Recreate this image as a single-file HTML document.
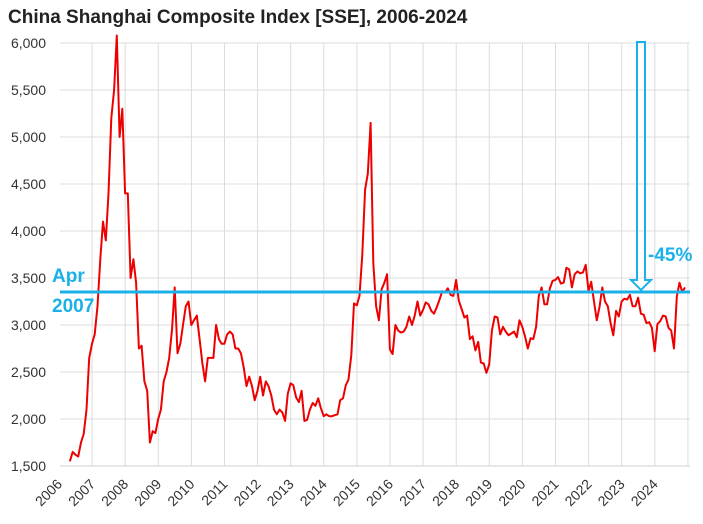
<!DOCTYPE html>
<html><head><meta charset="utf-8"><style>
body{margin:0;background:#fff;width:703px;height:519px;overflow:hidden;font-family:"Liberation Sans",sans-serif}
</style></head><body>
<svg id="chart" width="703" height="519" xmlns="http://www.w3.org/2000/svg">
<text x="8" y="23" font-size="19" font-weight="bold" fill="#222">China Shanghai Composite Index [SSE], 2006-2024</text>
<g id="grid"></g><g id="yticks"></g><g id="xticks"></g>
<path id="line" fill="none" stroke="#ee0000" stroke-width="2" stroke-linejoin="round"/>
<line x1="60" x2="690" y1="292" y2="292" stroke="#1ab0e8" stroke-width="3"/>
<path d="M637,42 H645 V280 H651 L641,290 L631,280 H637 Z" fill="none" stroke="#1ab0e8" stroke-width="2"/>
<text x="648" y="261" font-size="19" font-weight="bold" fill="#1ab0e8">-45%</text>
<text x="52" y="282" font-size="19" font-weight="bold" fill="#1ab0e8">Apr</text>
<text x="52" y="312" font-size="19" font-weight="bold" fill="#1ab0e8">2007</text>
</svg>
<script>
const years=[2006,2007,2008,2009,2010,2011,2012,2013,2014,2015,2016,2017,2018,2019,2020,2021,2022,2023,2024];
const yTicks=[1500,2000,2500,3000,3500,4000,4500,5000,5500,6000];
const startYear=2006.33;
const values=[1550,1650,1620,1600,1750,1840,2100,2650,
2800,2900,3200,3700,4100,3900,4400,5200,5500,6080,5000,5300,
4400,4400,3500,3700,3450,2750,2780,2400,2300,1750,1870,1850,
2000,2100,2400,2500,2650,2950,3400,2700,2800,3000,3200,3250,
3000,3050,3100,2850,2600,2400,2650,2650,2650,3000,2850,2800,
2800,2900,2930,2900,2750,2750,2700,2550,2350,2450,2350,2200,
2300,2450,2250,2400,2350,2250,2100,2050,2100,2070,1980,2270,
2380,2360,2230,2180,2300,1980,1990,2100,2170,2140,2220,2115,
2030,2050,2030,2030,2040,2050,2200,2220,2360,2420,2680,3230,
3210,3310,3750,4440,4610,5150,3660,3200,3050,3380,3450,3540,
2740,2690,3000,2940,2920,2930,2980,3090,3000,3100,3250,3100,
3160,3240,3220,3150,3120,3190,3270,3360,3350,3390,3320,3310,
3480,3260,3170,3080,3100,2850,2880,2730,2820,2600,2590,2490,
2580,2940,3090,3080,2900,2980,2930,2890,2910,2930,2870,3050,
2980,2880,2750,2860,2850,2980,3310,3400,3220,3220,3390,3470,
3480,3510,3440,3450,3610,3590,3400,3540,3570,3550,3560,3640,
3360,3460,3250,3050,3190,3400,3250,3200,3020,2890,3150,3090,
3250,3280,3270,3320,3200,3200,3290,3120,3110,3020,3030,2970,
2720,3010,3040,3100,3090,2970,2940,2750,3300,3450,3350,3400];
const X0=59,YW=33.1,Y0=466,YS=47/500;
const xS=t=>X0+(t-2006)*YW;
const yS=v=>Y0-(v-1500)*YS;
const NS="http://www.w3.org/2000/svg";
const grid=document.getElementById('grid'),yt=document.getElementById('yticks'),xt=document.getElementById('xticks');
yTicks.forEach(v=>{
 const l=document.createElementNS(NS,'line');
 
 
 l.setAttribute('x1',60);l.setAttribute('x2',690);l.setAttribute('y1',yS(v));l.setAttribute('y2',yS(v));
 l.setAttribute('stroke',v===1500?'#d0d0d0':'#dcdcdc');l.setAttribute('stroke-width',1);grid.appendChild(l);
 const t=document.createElementNS(NS,'text');
 
 
 t.setAttribute('x',46);t.setAttribute('y',yS(v)+5);t.setAttribute('text-anchor','end');t.setAttribute('font-size','14');t.setAttribute('fill','#333');
 t.textContent=v.toLocaleString('en-US');yt.appendChild(t);
});
years.forEach(y=>{
 const x=xS(y);
 if(y>2006){const l=document.createElementNS(NS,'line');
 
 
 l.setAttribute('x1',x);l.setAttribute('x2',x);l.setAttribute('y1',yS(6000));l.setAttribute('y2',Y0);
 l.setAttribute('stroke','#dcdcdc');grid.appendChild(l);}
 const t=document.createElementNS(NS,'text');
 
 
 t.setAttribute('x',x+4);t.setAttribute('y',485);t.setAttribute('text-anchor','end');t.setAttribute('font-size','14');t.setAttribute('fill','#333');
 t.setAttribute('transform','rotate(-45 '+(x+4)+' 485)');t.textContent=y;xt.appendChild(t);
});
const r=document.createElementNS(NS,'line');


r.setAttribute('x1',xS(2025));r.setAttribute('x2',xS(2025));r.setAttribute('y1',yS(6000));r.setAttribute('y2',Y0);r.setAttribute('stroke','#dcdcdc');grid.appendChild(r);
let d='';
values.forEach((v,i)=>{d+=(i?'L':'M')+xS(startYear+i/12).toFixed(1)+','+yS(v).toFixed(1);});
document.getElementById('line').setAttribute('d',d);
</script>
</body></html>
